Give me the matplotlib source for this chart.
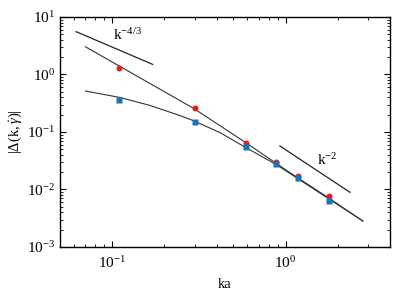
import matplotlib
matplotlib.use("Agg")
import matplotlib.pyplot as plt
from matplotlib.ticker import LogLocator, NullFormatter

plt.rcParams['font.family'] = ['Liberation Serif', 'DejaVu Serif']
plt.rcParams['mathtext.fontset'] = 'custom'
plt.rcParams['mathtext.rm'] = 'Liberation Serif'
plt.rcParams['mathtext.it'] = 'Liberation Serif:italic'

# points mesures
ka = [0.11, 0.30, 0.59, 0.88, 1.18, 1.78]
delta_rouge = [1.28, 0.258, 0.0636, 0.0297, 0.0172, 0.0078]
delta_bleu = [0.356, 0.1475, 0.0548, 0.0274, 0.0157, 0.00638]

# courbes
ka_courbe_haut = [0.070, 0.2925, 0.59, 1.059, 1.775, 2.79]
delta_courbe_haut = [3.04, 0.2615, 0.0652, 0.0196, 0.00711, 0.00283]
ka_courbe_bas = [0.070, 0.1112, 0.1655, 0.246, 0.2925, 0.42, 0.59, 0.891, 1.775, 2.79]
delta_courbe_bas = [0.516, 0.398, 0.289, 0.193, 0.1585, 0.097, 0.0535, 0.0267, 0.00687, 0.00283]

# pentes de reference
ka_pente43 = [0.062, 0.171]
delta_pente43 = [5.55, 1.50]
ka_pente2 = [0.927, 2.35]
delta_pente2 = [0.0571, 0.00894]

fig = plt.figure(figsize=(4.15, 2.91), dpi=100)
ax = fig.add_axes([0.1446, 0.1512, 0.7952, 0.7904])

gris = '#333333'
ax.plot(ka_courbe_haut, delta_courbe_haut, color=gris, lw=0.8)
ax.plot(ka_courbe_bas, delta_courbe_bas, color=gris, lw=0.8)
ax.plot(ka_pente43, delta_pente43, color='#222222', lw=0.9)
ax.plot(ka_pente2, delta_pente2, color='#222222', lw=0.9)

ax.plot(ka, delta_rouge, 'o', color='#e3211c', ms=4.3, mec='none', zorder=3)
ax.plot(ka, delta_bleu, 's', color='#1a74b3', ms=4.3, mec='none', zorder=3)

ax.text(0.101, 3.98, r'$\mathrm{k}^{-4/3}$', fontsize=11)
ax.text(1.51, 0.0267, r'$\mathrm{k}^{-2}$', fontsize=11)

ax.set_xscale('log')
ax.set_yscale('log')
ax.set_xlim(0.05, 4.0)
ax.set_ylim(1e-3, 1e1)

ax.xaxis.set_major_locator(LogLocator(base=10))
ax.xaxis.set_minor_locator(LogLocator(base=10, subs=range(2, 10)))
ax.xaxis.set_minor_formatter(NullFormatter())
ax.yaxis.set_major_locator(LogLocator(base=10))
ax.yaxis.set_minor_locator(LogLocator(base=10, subs=range(2, 10)))
ax.yaxis.set_minor_formatter(NullFormatter())

ax.tick_params(which='both', direction='in', top=True, right=True, labelsize=11)
ax.tick_params(which='major', length=4, width=0.8)
ax.tick_params(which='minor', length=2, width=0.6)
ax.tick_params(axis='x', which='major', pad=6)
for s in ax.spines.values():
    s.set_linewidth(1.0)

ax.set_xlabel('ka', fontsize=10.5, labelpad=5)
ax.set_ylabel(r'$|\Delta(\mathrm{k},\dot{\gamma})|$', fontsize=10.5, labelpad=2)

fig.savefig('out.png', dpi=100)
